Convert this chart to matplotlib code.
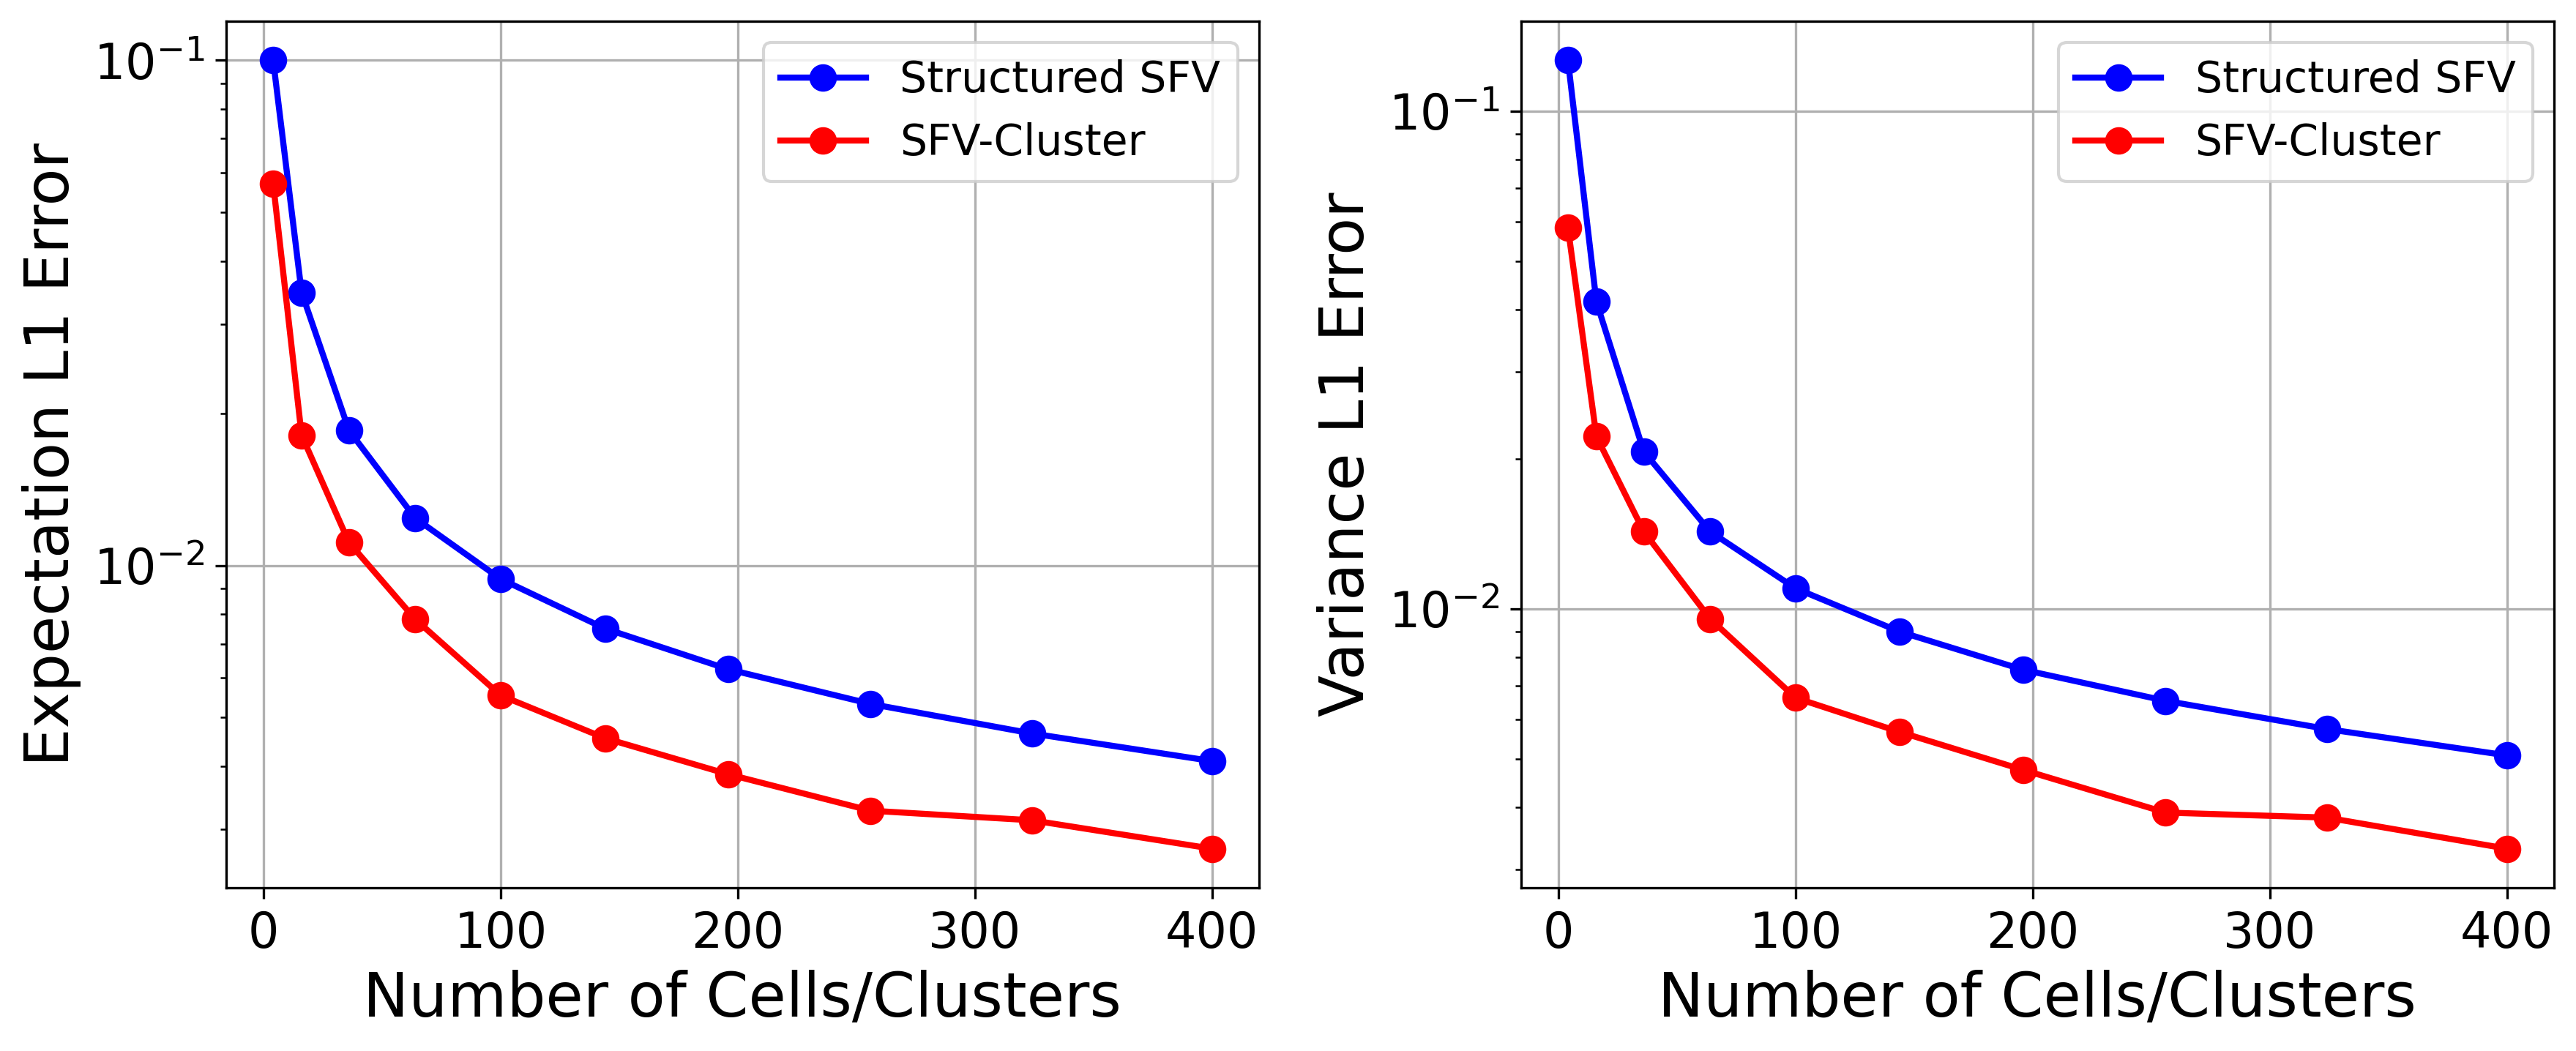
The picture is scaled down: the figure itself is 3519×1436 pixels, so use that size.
import matplotlib
matplotlib.use("Agg")
import matplotlib.pyplot as plt

# Number of cells / clusters
cells = [4, 16, 36, 64, 100, 144, 196, 256, 324, 400]

# Expectation L1 error
exp_structured = [0.100, 0.0347, 0.0185, 0.0124, 0.0094, 0.0075, 0.00623, 0.00532, 0.00465, 0.00410]
exp_cluster = [0.057, 0.0181, 0.0111, 0.00782, 0.00553, 0.00455, 0.00386, 0.00327, 0.00313, 0.00275]

# Variance L1 error
var_structured = [0.1265, 0.0414, 0.0207, 0.0143, 0.0110, 0.0090, 0.00755, 0.00654, 0.00574, 0.00508]
var_cluster = [0.0583, 0.0222, 0.0143, 0.00955, 0.00663, 0.00566, 0.00475, 0.0039, 0.00381, 0.0033]

fig = plt.figure(figsize=(11.733, 4.787), dpi=300)
ax1 = fig.add_axes([0.0878, 0.155, 0.4008, 0.825])
ax2 = fig.add_axes([0.5903, 0.155, 0.4009, 0.825])

panels = [
    (ax1, exp_structured, exp_cluster, "Expectation L1 Error"),
    (ax2, var_structured, var_cluster, "Variance L1 Error"),
]

for ax, structured, cluster, ylabel in panels:
    ax.plot(cells, structured, "o-", color="blue", linewidth=2, markersize=8, label="Structured SFV")
    ax.plot(cells, cluster, "o-", color="red", linewidth=2, markersize=8, label="SFV-Cluster")
    ax.set_yscale("log")
    ax.set_xlabel("Number of Cells/Clusters", fontsize=20)
    ax.set_ylabel(ylabel, fontsize=20)
    ax.tick_params(axis="both", which="major", labelsize=16)
    ax.grid(True)
    ax.legend(fontsize=14, loc="upper right")

fig.savefig("out.png", dpi=300)
